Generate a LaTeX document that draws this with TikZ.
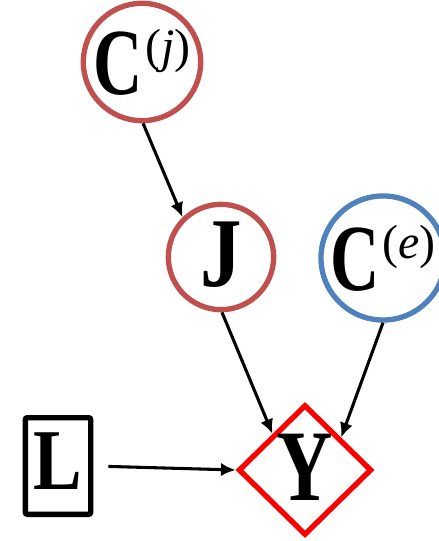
\documentclass[tikz,border=0pt]{standalone}
\usepackage{fontspec}
\setmainfont{Liberation Serif}
\usetikzlibrary{shapes.geometric,arrows.meta,positioning}

\definecolor{jred}{RGB}{192,80,77}
\definecolor{eblue}{RGB}{79,129,189}
% size, horizontal squeeze, letter
\newcommand{\bigsym}[3]{\scalebox{#2}[1]{\fontsize{#1}{#1}\selectfont\bfseries #3}}
\newcommand{\upidx}[1]{\kern2pt\raisebox{24pt}{\fontsize{36}{36}\selectfont(\textit{#1})}}
\newcommand{\lift}[1]{\rule[-#1]{0pt}{#1}}

\begin{document}
\begin{tikzpicture}[x=0.75pt,y=-0.75pt,
  var/.style={circle,line width=4pt,minimum size=79pt,inner sep=0pt},
  link/.style={line width=2.3pt,-{Latex[length=11pt,width=10pt]}}]
\useasboundingbox (0,0) rectangle (438,541);
% variables
\node[var,draw=jred] (cj) at (142,62) {\bigsym{71}{0.72}{C}\upidx{j}};
\node[var,draw=jred] (j) at (221,257) {\bigsym{74}{0.84}{J}\lift{3.5pt}};
\node[var,draw=eblue] (ce) at (383,258) {\bigsym{71}{0.72}{C}\upidx{e}};
\node[diamond,draw=red,line width=4pt,inner sep=0pt,
  minimum width=100pt,minimum height=98pt] (y) at (305,470) {\bigsym{76}{0.77}{Y}\lift{3.5pt}};
\node[draw,line width=4pt,rounded corners=1.5pt,inner sep=0pt,
  minimum width=49pt,minimum height=72.5pt] (l) at (58,466) {\bigsym{65}{0.84}{L}\lift{7pt}};
% links
\draw[link] (cj.-89) -- (j.134);
\draw[link] (j.-89) -- (y.132);
\draw[link] (ce.south) -- (y.42);
\draw[link,shorten <=11.25pt] (l.east) -- (y.west);
\end{tikzpicture}
\end{document}
